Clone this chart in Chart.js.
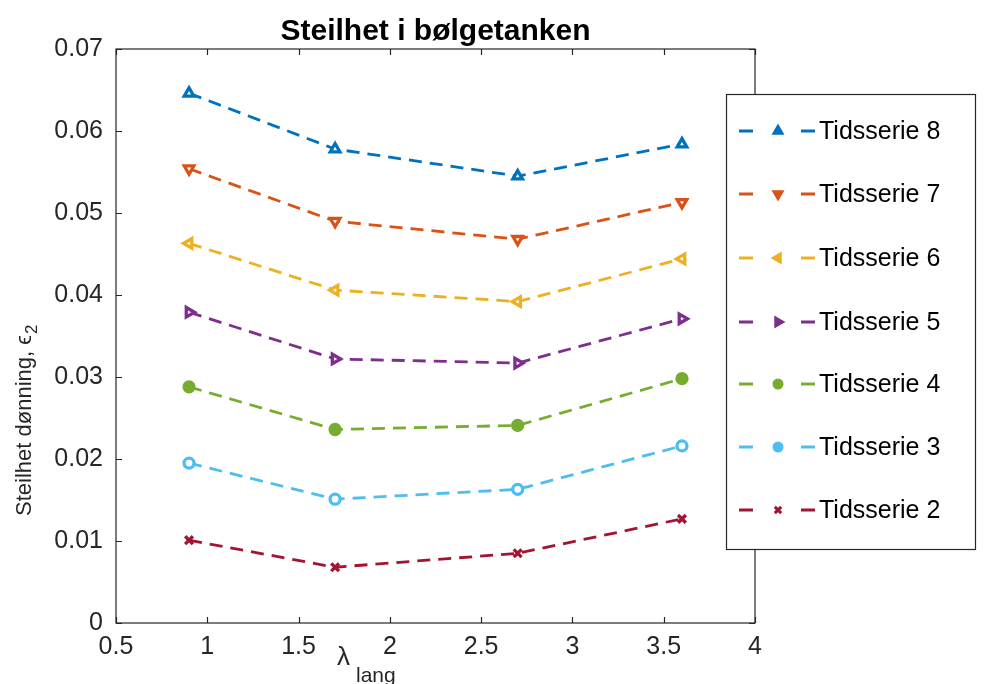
<!DOCTYPE html>
<html>
<head>
<meta charset="utf-8">
<script src="https://cdn.jsdelivr.net/npm/chart.js@4/dist/chart.umd.min.js"></script>
<style>
  html, body { margin: 0; padding: 0; background: #fff; }
  #wrap { width: 985px; height: 684px; }
</style>
</head>
<body>
<div id="wrap"><canvas id="c" width="985" height="684"></canvas></div>
<script>
// data
const lambdaLang = [0.9, 1.7, 2.7, 3.6];
const ts8 = [0.0646, 0.0578, 0.0545, 0.0584];
const ts7 = [0.0554, 0.0490, 0.0468, 0.0513];
const ts6 = [0.0463, 0.0406, 0.0392, 0.0444];
const ts5 = [0.0379, 0.0322, 0.0317, 0.0371];
const ts4 = [0.0288, 0.0236, 0.0241, 0.0298];
const ts3 = [0.0195, 0.0151, 0.0163, 0.0216];
const ts2 = [0.0101, 0.0068, 0.0085, 0.0127];
const seriesNames = ['Tidsserie 8', 'Tidsserie 7', 'Tidsserie 6', 'Tidsserie 5', 'Tidsserie 4', 'Tidsserie 3', 'Tidsserie 2'];
const xTicks = [0.5, 1, 1.5, 2, 2.5, 3, 3.5, 4];
const yTicks = [0, 0.01, 0.02, 0.03, 0.04, 0.05, 0.06, 0.07];

const INK = '#262626';
const FONT = '"Liberation Sans", Arial, sans-serif';

// marker style per series (matlab ^ v < > . o x)
const styles = [
  {color: '#0072BD', pointStyle: 'triangle', rotation: 0, fill: '#fff', radius: 5.5},
  {color: '#D95319', pointStyle: 'triangle', rotation: 180, fill: '#fff', radius: 5.5},
  {color: '#EDB120', pointStyle: 'triangle', rotation: 270, fill: '#fff', radius: 5.5},
  {color: '#7E2F8E', pointStyle: 'triangle', rotation: 90, fill: '#fff', radius: 5.5},
  {color: '#77AC30', pointStyle: 'circle', rotation: 0, fill: '#77AC30', radius: 5},
  {color: '#4DBEEE', pointStyle: 'circle', rotation: 0, fill: '#fff', radius: 5},
  {color: '#A2142F', pointStyle: 'crossRot', rotation: 0, fill: '#A2142F', radius: 5.5},
];
const values = [ts8, ts7, ts6, ts5, ts4, ts3, ts2];

const datasets = values.map((v, i) => ({
  label: seriesNames[i],
  data: lambdaLang.map((x, j) => ({x: x, y: v[j]})),
  borderColor: styles[i].color,
  borderWidth: 2.8,
  borderDash: [13, 8],
  pointStyle: styles[i].pointStyle,
  rotation: styles[i].rotation,
  pointRadius: styles[i].radius,
  pointBorderWidth: 3.3,
  pointBackgroundColor: styles[i].fill,
  pointBorderColor: styles[i].color,
  showLine: true,
  tension: 0,
}));

function drawMarker(ctx, s, x, y) {
  ctx.save();
  ctx.fillStyle = s.color;
  ctx.strokeStyle = s.color;
  ctx.lineWidth = 3;
  ctx.setLineDash([]);
  if (Chart.helpers && Chart.helpers.drawPoint) {
    Chart.helpers.drawPoint(ctx, {pointStyle: s.pointStyle, rotation: s.rotation, radius: s.radius - 1, borderWidth: 3}, x, y);
  } else {
    ctx.beginPath();
    ctx.arc(x, y, s.radius - 1, 0, Math.PI * 2);
    ctx.fill();
    ctx.stroke();
  }
  ctx.restore();
}

// box, inward ticks, title, axis labels and legend in matlab style
const matlabFrame = {
  id: 'matlabFrame',
  afterDraw(chart) {
    const ctx = chart.ctx;
    const a = chart.chartArea;
    const xs = chart.scales.x, ys = chart.scales.y;
    ctx.save();
    ctx.strokeStyle = INK;
    ctx.lineWidth = 1.2;
    ctx.strokeRect(a.left, a.top, a.right - a.left, a.bottom - a.top);
    ctx.beginPath();
    xTicks.forEach((t) => {
      const px = Math.round(xs.getPixelForValue(t)) + 0.5;
      ctx.moveTo(px, a.bottom); ctx.lineTo(px, a.bottom - 6);
      ctx.moveTo(px, a.top); ctx.lineTo(px, a.top + 6);
    });
    yTicks.forEach((t) => {
      const py = Math.round(ys.getPixelForValue(t)) + 0.5;
      ctx.moveTo(a.left, py); ctx.lineTo(a.left + 6, py);
      ctx.moveTo(a.right, py); ctx.lineTo(a.right - 6, py);
    });
    ctx.stroke();

    // title
    ctx.fillStyle = '#000';
    ctx.font = 'bold 30px ' + FONT;
    ctx.textAlign = 'center';
    ctx.textBaseline = 'alphabetic';
    ctx.fillText('Steilhet i bølgetanken', (a.left + a.right) / 2, 40);

    // x label
    ctx.fillStyle = INK;
    ctx.textAlign = 'left';
    ctx.font = '26px ' + FONT;
    ctx.fillText('λ', 337, 665);
    ctx.font = '21px ' + FONT;
    ctx.fillText('lang', 356, 682);

    // y label
    ctx.save();
    ctx.translate(31, 516);
    ctx.rotate(-Math.PI / 2);
    ctx.font = '22px ' + FONT;
    const main = 'Steilhet dønning, ϵ';
    ctx.fillText(main, 0, 0);
    const w = ctx.measureText(main).width;
    ctx.font = '17px ' + FONT;
    ctx.fillText('2', w + 1, 6);
    ctx.restore();

    // legend
    const lx = 726, ly = 94, lw = 249, lh = 455;
    ctx.fillStyle = '#fff';
    ctx.fillRect(lx, ly, lw, lh);
    ctx.strokeStyle = INK;
    ctx.lineWidth = 1.2;
    ctx.strokeRect(lx + 0.5, ly + 0.5, lw, lh);
    const rowY = [131, 194, 258, 322, 384, 447, 510];
    seriesNames.forEach((name, i) => {
      const y = rowY[i];
      const s = styles[i];
      ctx.strokeStyle = s.color;
      ctx.lineWidth = 2.8;
      ctx.beginPath();
      ctx.moveTo(739, y); ctx.lineTo(753, y);
      ctx.moveTo(801, y); ctx.lineTo(815, y);
      ctx.stroke();
      drawMarker(ctx, s, 778, y);
      ctx.fillStyle = '#000';
      ctx.font = '25px ' + FONT;
      ctx.textAlign = 'left';
      ctx.textBaseline = 'middle';
      ctx.fillText(name, 819, y + 1);
    });
    ctx.restore();
  },
};

new Chart(document.getElementById('c'), {
  type: 'scatter',
  data: {datasets: datasets},
  options: {
    responsive: false,
    animation: false,
    layout: {padding: {left: 0, top: 49, right: 230, bottom: 0}},
    plugins: {legend: {display: false}, tooltip: {enabled: false}, title: {display: false}},
    scales: {
      x: {
        type: 'linear',
        min: 0.5, max: 4,
        afterBuildTicks: (scale) => { scale.ticks = xTicks.map((v) => ({value: v})); },
        afterFit: (scale) => { scale.height = 61; },
        grid: {display: false, drawTicks: false},
        border: {display: false},
        ticks: {
          padding: 9,
          color: INK,
          font: {family: FONT, size: 25},
          maxRotation: 0,
          callback: (v) => String(v),
        },
      },
      y: {
        type: 'linear',
        min: 0, max: 0.07,
        afterBuildTicks: (scale) => { scale.ticks = yTicks.map((v) => ({value: v})); },
        afterFit: (scale) => { scale.width = 116; },
        grid: {display: false, drawTicks: false},
        border: {display: false},
        ticks: {
          padding: 13,
          color: INK,
          font: {family: FONT, size: 25},
          callback: (v) => (v === 0 ? '0' : v.toFixed(2)),
        },
      },
    },
  },
  plugins: [matlabFrame],
});
</script>
</body>
</html>
